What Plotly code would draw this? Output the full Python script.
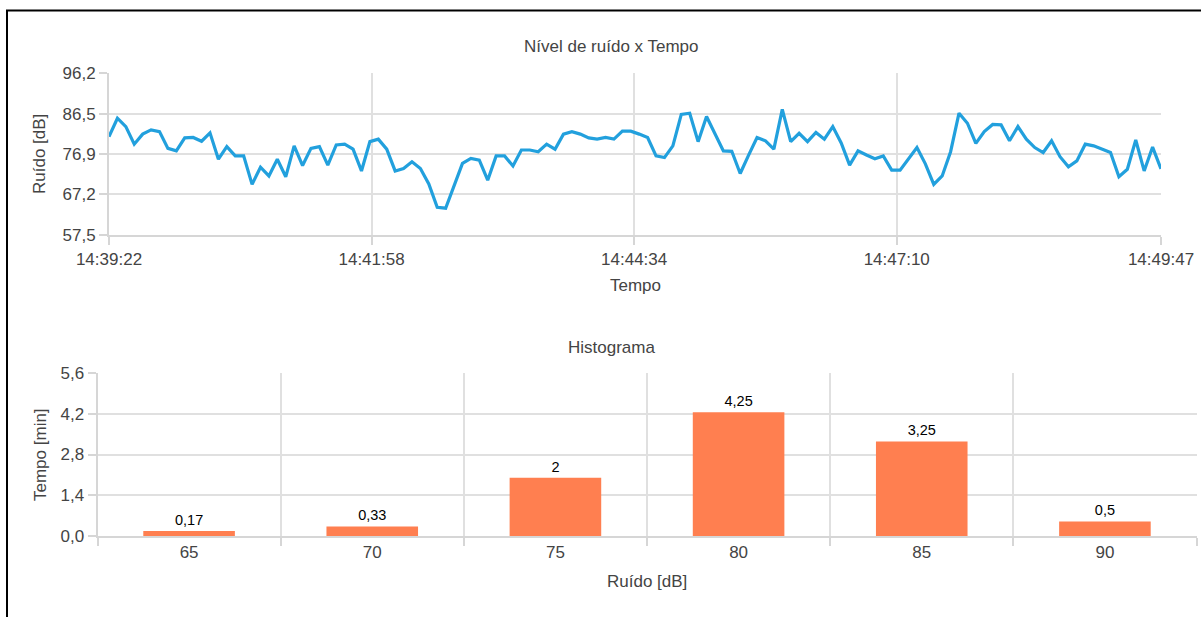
import plotly.graph_objects as go
import pandas as pd

# ---------------- data ----------------
start_time = "2024-01-01 14:39:22"
sample_interval_s = 5
noise_db = [
    81.0, 85.4, 83.4, 79.2, 81.6, 82.6, 82.2, 78.2, 77.6, 80.7,
    80.8, 79.9, 81.9, 75.6, 78.6, 76.4, 76.4, 69.6, 73.7, 71.6,
    75.6, 71.4, 78.8, 74.1, 78.2, 78.6, 74.2, 79.0, 79.2, 78.0,
    72.8, 79.8, 80.4, 78.0, 72.8, 73.4, 75.0, 73.4, 69.7, 64.1,
    63.9, 69.4, 74.6, 75.8, 75.4, 70.6, 76.4, 76.4, 74.0, 77.8,
    77.8, 77.4, 79.2, 78.0, 81.6, 82.2, 81.6, 80.7, 80.4, 80.8,
    80.4, 82.3, 82.3, 81.6, 80.8, 76.4, 76.0, 78.8, 86.3, 86.6,
    79.8, 85.8, 81.9, 77.6, 77.5, 72.2, 76.6, 80.8, 80.0, 78.0,
    87.5, 79.8, 81.8, 79.8, 82.0, 80.4, 83.4, 79.5, 74.2, 77.6,
    76.6, 75.7, 76.4, 73.0, 73.0, 75.8, 78.4, 74.5, 69.6, 71.6,
    77.4, 86.6, 84.2, 79.4, 82.2, 83.9, 83.8, 80.0, 83.4, 80.4,
    78.4, 77.2, 80.0, 76.2, 73.8, 75.2, 79.2, 78.8, 78.0, 77.2,
    71.4, 73.2, 80.2, 72.8, 78.5, 73.3,
]
time_tick_labels = ["14:39:22", "14:41:58", "14:44:34", "14:47:10", "14:49:47"]
noise_ticks = [57.5, 67.2, 76.9, 86.5, 96.2]

hist_bins = ["65", "70", "75", "80", "85", "90"]
hist_minutes = [0.17, 0.33, 2, 4.25, 3.25, 0.5]
hist_ticks = [0.0, 1.4, 2.8, 4.2, 5.6]

# ---------------- derived ----------------
t0 = pd.Timestamp(start_time)
times = [t0 + pd.Timedelta(seconds=sample_interval_s * i) for i in range(len(noise_db))]
day = t0.strftime("%Y-%m-%d")
time_tickvals = [pd.Timestamp(f"{day} {lab}") for lab in time_tick_labels]
noise_ticktext = [f"{v:.1f}".replace(".", ",") for v in noise_ticks]
hist_text = [f"{v:g}".replace(".", ",") for v in hist_minutes]

W, H = 1201, 617
def px(x):
    return x / W
def py(y):
    return 1 - y / H

FONT = "Liberation Sans, Arial, sans-serif"
TXT = "#444444"
GRID = "#e0e0e0"
LINE = "#d6d6d6"

fig = go.Figure()
fig.add_trace(go.Scatter(
    x=times, y=noise_db, mode="lines",
    line=dict(color="#22a0dd", width=3.2),
    xaxis="x", yaxis="y", showlegend=False,
))
fig.add_trace(go.Bar(
    x=hist_bins, y=hist_minutes, text=hist_text, textposition="outside",
    textfont=dict(color="#000000", size=14.5, family=FONT),
    marker=dict(color="#ff7f50", line=dict(width=0)),
    cliponaxis=False,
    xaxis="x2", yaxis="y2", showlegend=False,
))

axis_common = dict(
    automargin=False,
    showgrid=True, gridcolor=GRID, gridwidth=2,
    showline=True, linecolor=LINE, linewidth=2,
    ticks="outside", ticklen=8, tickcolor=LINE, tickwidth=2,
    tickfont=dict(size=17, color=TXT, family=FONT),
    zeroline=False,
)

fig.update_layout(
    width=W, height=H,
    margin=dict(l=0, r=0, t=0, b=0, pad=0, autoexpand=False),
    paper_bgcolor="white", plot_bgcolor="white",
    separators=",.",
    bargap=0.5,
    font=dict(family=FONT, color=TXT),
    xaxis=dict(
        domain=[px(109), px(1161)], anchor="y", type="date",
        range=[times[0], times[-1]],
        tickvals=time_tickvals, ticktext=time_tick_labels,
        **axis_common,
    ),
    yaxis=dict(
        domain=[py(235), py(73)], anchor="x",
        range=[noise_ticks[0], noise_ticks[-1]],
        tickvals=noise_ticks, ticktext=noise_ticktext,
        **axis_common,
    ),
    xaxis2=dict(
        domain=[px(97.5), px(1196.5)], anchor="y2", type="category",
        tickson="boundaries", range=[-0.5, len(hist_bins) - 0.5],
        **axis_common,
    ),
    yaxis2=dict(
        domain=[py(536), py(373)], anchor="x2",
        range=[hist_ticks[0], hist_ticks[-1]],
        tickvals=hist_ticks, tickformat=".1f",
        **axis_common,
    ),
)

ann_font = dict(size=17, color=TXT, family=FONT)
anns = [
    dict(text="Nível de ruído x Tempo", x=px(611), y=py(47)),
    dict(text="Tempo", x=px(635), y=py(285)),
    dict(text="Ruído [dB]", x=px(40), y=py(154), textangle=-90),
    dict(text="Histograma", x=px(611), y=py(347)),
    dict(text="Ruído [dB]", x=px(647), y=py(581)),
    dict(text="Tempo [min]", x=px(40), y=py(455), textangle=-90),
]
for a in anns:
    fig.add_annotation(xref="paper", yref="paper", xanchor="center", yanchor="middle",
                       showarrow=False, font=ann_font, **a)

# outer frame (extends beyond the visible page on the right and bottom)
fig.add_shape(type="rect", xref="paper", yref="paper",
              x0=px(7), y0=-0.02, x1=1.02, y1=py(10.5),
              line=dict(color="#000000", width=2), fillcolor="rgba(0,0,0,0)")

fig.write_html(
    "out.html",
    config={"displayModeBar": False},
    post_script="document.body.style.margin='0';document.body.style.overflow='hidden';",
)
